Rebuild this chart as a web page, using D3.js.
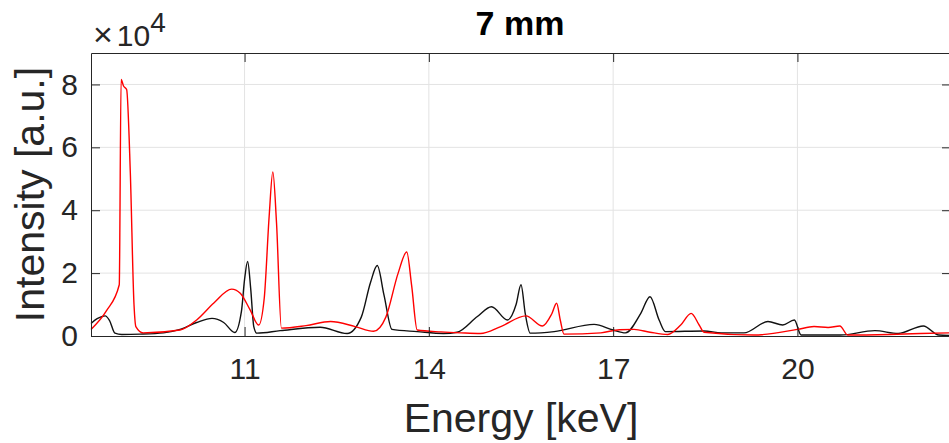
<!DOCTYPE html>
<html>
<head>
<meta charset="utf-8">
<script src="https://cdn.jsdelivr.net/npm/d3@7"></script>
<style>
    body { margin: 0; background: #fff; }
    text { font-family: Arial, "Liberation Sans", Helvetica, sans-serif; fill: #262626; }
</style>
</head>
<body>
<div id="chart"></div>
<script>
// energies in keV, intensities in counts (axis shows x10^4)
const blackEnergy = [8.5, 8.6, 8.73, 8.8, 8.89, 9.0, 9.3, 9.68, 9.95, 10.22, 10.47, 10.66, 10.84, 10.95, 11.0, 11.05, 11.1, 11.15, 11.2,
    11.58, 12.23, 12.67, 12.9, 13.05, 13.16, 13.27, 13.4, 13.81, 14.24, 14.46, 14.79, 15.02, 15.28, 15.42, 15.5, 15.57, 15.65,
    16.04, 16.69, 17.0, 17.2, 17.45, 17.6, 17.75, 17.85, 18.48, 18.76, 19.13, 19.52, 19.76, 19.95, 20.06, 20.7, 21.26, 21.64,
    22.05, 22.3, 22.5];
const blackIntensity = [4000, 5500, 6400, 5000, 900, 500, 600, 1000, 2100, 4300, 5600, 4300, 1100, 8000, 18000, 23700, 15000, 3000, 900,
    1700, 2800, 800, 6000, 17000, 22400, 13000, 2100, 1400, 800, 1200, 6200, 9300, 5100, 10000, 16300, 7000, 900,
    1400, 3700, 1900, 1000, 7200, 12500, 5000, 1400, 1600, 1000, 1000, 4600, 3500, 5100, 300, 300, 1700, 800,
    3200, 300, 200];

const redEnergy = [8.5, 8.75, 8.96, 8.99, 9.03, 9.08, 9.14, 9.2, 9.23, 9.35, 9.95, 10.22, 10.5, 10.79, 10.93, 11.09, 11.23,
    11.32, 11.4, 11.46, 11.52, 11.6, 12.0, 12.4, 12.8, 13.1, 13.3, 13.5, 13.64, 13.72, 13.81, 14.2, 14.52, 14.84, 15.17,
    15.58, 15.85, 16.0, 16.08, 16.14, 16.2, 16.8, 17.1, 17.34, 17.6, 17.89, 18.1, 18.27, 18.4, 18.48, 19.29, 20.0, 20.27,
    20.5, 20.69, 20.82, 21.5, 22.0, 22.5];
const redIntensity = [2100, 8000, 16300, 81600, 79500, 78400, 52000, 10000, 3000, 1000, 1900, 5100, 10500, 14900, 13600, 8300, 3500,
    12000, 38000, 52200, 36000, 2500, 3300, 4600, 3000, 1500, 6000, 20000, 26700, 16000, 1900, 1300, 1000, 800, 3000,
    6400, 3200, 7000, 10400, 5000, 600, 1000, 2000, 2100, 1200, 500, 3500, 7200, 3500, 1200, 300, 2100, 3000,
    2700, 3200, 300, 500, 800, 1000];

const xTicks = [11, 14, 17, 20];
const yTicks = [0, 20000, 40000, 60000, 80000];

const width = 949, height = 443;
const margin = { top: 53, right: -2, bottom: 107, left: 91 };
const axisColor = "#262626";

const svg = d3.select("#chart").append("svg")
    .attr("width", width)
    .attr("height", height);

const x = d3.scaleLinear()
    .domain([8.5, 22.5])
    .range([margin.left, width - margin.right]);

const y = d3.scaleLinear()
    .domain([0, 90000])
    .range([height - margin.bottom, margin.top]);

// grid
svg.append("g")
    .selectAll("line.vgrid")
    .data(xTicks)
    .enter().append("line")
    .attr("x1", d => x(d)).attr("x2", d => x(d))
    .attr("y1", y(0)).attr("y2", y(90000))
    .attr("stroke", "#e3e3e3");

svg.append("g")
    .selectAll("line.hgrid")
    .data(yTicks.slice(1))
    .enter().append("line")
    .attr("x1", x(8.5)).attr("x2", x(22.5))
    .attr("y1", d => y(d)).attr("y2", d => y(d))
    .attr("stroke", "#e3e3e3");

// the two spectra
const line = d3.line()
    .x(d => x(d[0]))
    .y(d => y(d[1]))
    .curve(d3.curveMonotoneX);

const plot = svg.append("g");
plot.append("path")
    .datum(d3.zip(blackEnergy, blackIntensity))
    .attr("fill", "none")
    .attr("stroke", "#111")
    .attr("stroke-width", 1.4)
    .attr("d", line);

plot.append("path")
    .datum(d3.zip(redEnergy, redIntensity))
    .attr("fill", "none")
    .attr("stroke", "#ff0000")
    .attr("stroke-width", 1.4)
    .attr("d", line);

// axes, ticks point inwards like matlab
const tickLen = 9;
const xAxis = d3.axisBottom(x).tickValues(xTicks).tickSizeInner(-tickLen).tickSizeOuter(0).tickPadding(22);
const xTop = d3.axisTop(x).tickValues(xTicks).tickSizeInner(-tickLen).tickSizeOuter(0).tickFormat("");
const yAxis = d3.axisLeft(y).tickValues(yTicks).tickSizeInner(-tickLen).tickSizeOuter(0).tickPadding(13)
    .tickFormat(d => d / 10000);
const yRight = d3.axisRight(y).tickValues(yTicks).tickSizeInner(-tickLen).tickSizeOuter(0).tickFormat("");

function styleAxis(g) {
    g.select(".domain").attr("stroke", axisColor);
    g.selectAll(".tick line").attr("stroke", axisColor);
    g.selectAll(".tick text").attr("fill", axisColor).style("font-size", "30px")
        .style("font-family", "Arial, 'Liberation Sans', sans-serif");
}

svg.append("g").attr("transform", `translate(0,${y(0)})`).call(xAxis).call(styleAxis);
svg.append("g").attr("transform", `translate(0,${y(90000)})`).call(xTop).call(styleAxis);
svg.append("g").attr("transform", `translate(${x(8.5)},0)`).call(yAxis).call(styleAxis);
svg.append("g").attr("transform", `translate(${x(22.5)},0)`).call(yRight).call(styleAxis);

// labels
svg.append("text")
    .attr("x", (x(8.5) + x(22.5)) / 2)
    .attr("y", 432)
    .attr("text-anchor", "middle")
    .style("font-size", "41px")
    .text("Energy [keV]");

svg.append("text")
    .attr("transform", `translate(44, ${(y(0) + y(90000)) / 2}) rotate(-90)`)
    .attr("text-anchor", "middle")
    .style("font-size", "41px")
    .text("Intensity [a.u.]");

svg.append("text")
    .attr("x", 520)
    .attr("y", 35)
    .attr("text-anchor", "middle")
    .style("font-size", "34px")
    .style("font-weight", "bold")
    .style("fill", "#000")
    .text("7 mm");

// exponent label above the y axis
const expo = svg.append("text")
    .attr("x", 93)
    .attr("y", 46);
expo.append("tspan").style("font-size", "34px").style("font-weight", "300").text("\u00d7");
expo.append("tspan").attr("dx", 4).style("font-size", "30px").text("10");
expo.append("tspan").attr("dy", -14).style("font-size", "28px").text("4");
</script>
</body>
</html>
